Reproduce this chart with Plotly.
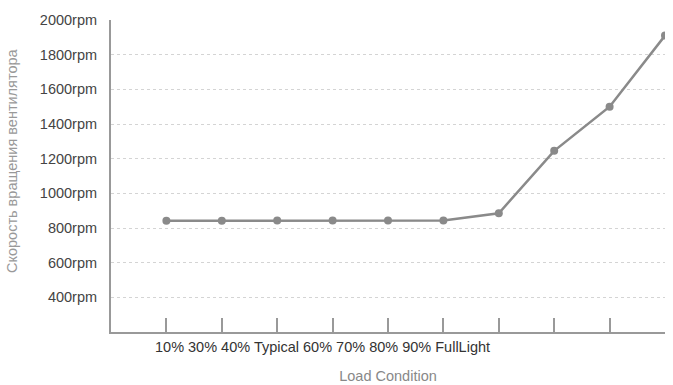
import plotly.graph_objects as go

# Data
load_labels = ["10%", "30%", "40%", "Typical", "60%", "70%", "80%", "90%", "FullLight"]
positions = [1, 2, 3, 4, 5, 6, 7, 8, 9, 10]
fan_speed = [842, 842, 843, 843, 843, 843, 885, 1245, 1500, 1910]
y_ticks = [400, 600, 800, 1000, 1200, 1400, 1600, 1800, 2000]
y_tick_text = [f"{v}rpm" for v in y_ticks]

FONT = "Arial, Liberation Sans, sans-serif"

fig = go.Figure()
fig.add_trace(go.Scatter(
    x=positions, y=fan_speed, mode="lines+markers",
    line=dict(color="#8a8a8a", width=2.5),
    marker=dict(color="#8a8a8a", size=8),
    showlegend=False, hoverinfo="skip",
))

fig.update_layout(
    width=673, height=385,
    margin=dict(l=111, r=8, t=20, b=53),
    paper_bgcolor="white", plot_bgcolor="white",
    font=dict(family=FONT, size=14, color="#444"),
    xaxis=dict(
        range=[0, 10], tickvals=positions, showticklabels=False,
        ticks="inside", ticklen=14, tickcolor="#999", tickwidth=1.5,
        showline=True, linecolor="#999", linewidth=2,
        showgrid=False, zeroline=False, automargin=False,
        title=dict(text="Load Condition", font=dict(size=14.5, color="#888"), standoff=38),
    ),
    yaxis=dict(
        range=[200, 2000], tickvals=y_ticks, ticktext=y_tick_text,
        ticks="", ticklabelstandoff=9, automargin=False,
        tickfont=dict(size=14.5, color="#444"),
        showline=True, linecolor="#999", linewidth=2,
        showgrid=True, gridcolor="#d4d4d4", griddash="dot", gridwidth=1,
        zeroline=False,
    ),
    annotations=[
        dict(text=" ".join(load_labels), xref="paper", yref="paper",
             x=0.076, y=0, xanchor="left", yanchor="top", yshift=-5,
             showarrow=False, font=dict(size=14.5, color="#333")),
        dict(text="Скорость вращения вентилятора", xref="paper", yref="paper",
             x=0, y=0.548, xanchor="center", yanchor="middle", xshift=-99,
             textangle=-90, showarrow=False, font=dict(size=14.5, color="#999")),
    ],
)

fig.write_html("out.html")
